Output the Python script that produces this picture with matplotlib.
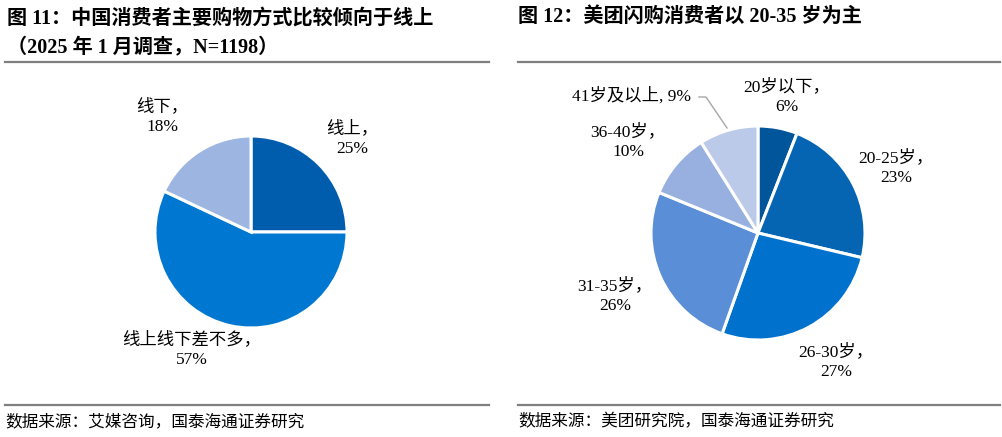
import matplotlib.pyplot as plt
from matplotlib.lines import Line2D

plt.rcParams['font.family'] = ['Liberation Serif', 'Noto Sans CJK SC', 'DejaVu Sans']

# Left chart: shopping mode
left_labels = ["线上", "线上线下差不多", "线下"]
left_values = [25, 57, 18]
left_colors = ["#005DAD", "#0077D0", "#9DB5E1"]

# Right chart: age groups
right_labels = ["20岁以下", "20-25岁", "26-30岁", "31-35岁", "36-40岁", "41岁及以上"]
right_values = [6, 23, 27, 26, 10, 9]
right_colors = ["#00559B", "#0565B2", "#0071CC", "#5A8ED6", "#97B0E0", "#BCCAE9"]

title_left = "图 11：中国消费者主要购物方式比较倾向于线上\n（2025 年 1 月调查，N=1198）"
title_right = "图 12：美团闪购消费者以 20-35 岁为主"
source_left = "数据来源：艾媒咨询，国泰海通证券研究"
source_right = "数据来源：美团研究院，国泰海通证券研究"

W, H = 1003, 437
fig = plt.figure(figsize=(W / 100, H / 100), dpi=100)


def pie_axes(cx, cy, r):
    # axes placed in pixel coordinates so the pie lands where it should
    ax = fig.add_axes([(cx - r) / W, (H - cy - r) / H, 2 * r / W, 2 * r / H])
    ax.axis("off")
    return ax


def px(cx, cy, r, x, y):
    return (x - cx) / r, (cy - y) / r


LBL = 12.5

# ---- left pie
lcx, lcy, lr = 251, 232, 96
ax1 = pie_axes(lcx, lcy, lr)
ax1.pie(left_values, colors=left_colors, startangle=90, counterclock=False,
        radius=1, wedgeprops=dict(edgecolor="white", linewidth=2.2))
ax1.set_aspect("auto")
ax1.set_xlim(-1, 1)
ax1.set_ylim(-1, 1)

left_pos = [(352, 139), (192, 350), (162, 117)]
for lab, v, (x, y) in zip(left_labels, left_values, left_pos):
    tx, ty = px(lcx, lcy, lr, x, y)
    ax1.text(tx, ty, f"{lab}，\n{v}%", ha="center", va="center", fontsize=LBL,
             linespacing=1.3, clip_on=False)

# ---- right pie
rcx, rcy, rr = 758, 233, 107
ax2 = pie_axes(rcx, rcy, rr)
ax2.pie(right_values, colors=right_colors, startangle=90, counterclock=False,
        radius=1, wedgeprops=dict(edgecolor="white", linewidth=2.2))
ax2.set_aspect("auto")
ax2.set_xlim(-1, 1)
ax2.set_ylim(-1, 1)

right_pos = [(787, 97), (896, 168), (836, 362), (615, 296), (628, 142)]
for lab, v, (x, y) in zip(right_labels[:5], right_values[:5], right_pos):
    tx, ty = px(rcx, rcy, rr, x, y)
    ax2.text(tx, ty, f"{lab}，\n{v}%", ha="center", va="center", fontsize=LBL,
             linespacing=1.3, clip_on=False)

# last label on one line with a leader line
tx, ty = px(rcx, rcy, rr, 632, 96)
ax2.text(tx, ty, f"{right_labels[5]}, {right_values[5]}%", ha="center", va="center",
         fontsize=LBL, clip_on=False)
x0, y0 = px(rcx, rcy, rr, 699, 97)
x1, y1 = px(rcx, rcy, rr, 706, 97)
x2, y2 = px(rcx, rcy, rr, 727, 128)
ax2.plot([x0, x1, x2], [y0, y1, y2], color="#A6A6A6", lw=1, clip_on=False)

# ---- titles, rules, sources
fig.text(7 / W, 1 - 33 / H, title_left, fontsize=14.5, fontweight="bold",
         va="center", ha="left", linespacing=1.62)
fig.text(518 / W, 1 - 17 / H, title_right, fontsize=14.5, fontweight="bold",
         va="center", ha="left")

for xa, xb in [(5, 489), (518, 1000)]:
    for yy in (62, 405):
        fig.add_artist(Line2D([xa / W, xb / W], [1 - yy / H, 1 - yy / H],
                              color="#7F7F7F", lw=1.6))

fig.text(5 / W, 1 - 422 / H, source_left, fontsize=12, va="center", ha="left")
fig.text(518 / W, 1 - 422 / H, source_right, fontsize=12, va="center", ha="left")

fig.savefig("out.png", dpi=100)
